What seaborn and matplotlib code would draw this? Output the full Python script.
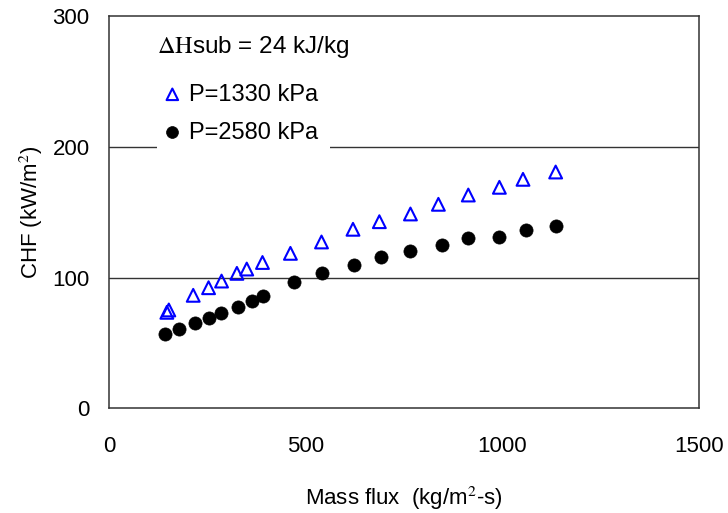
import matplotlib
matplotlib.use("Agg")
import matplotlib.pyplot as plt
import seaborn as sns
import pandas as pd

# Data
g_1330 = [147, 152, 214, 253, 286, 325, 350, 390, 461, 540, 620, 687, 766, 837, 913, 992, 1052, 1135]
chf_1330 = [73.4, 75.2, 86.4, 92.2, 97.3, 103.2, 106.5, 111.5, 118.5, 127.2, 136.9, 142.7, 148.6, 156.0, 163.1, 169.0, 175.1, 180.7]
g_2580 = [142, 178, 218, 253, 285, 329, 364, 392, 471, 540, 623, 690, 766, 846, 912, 992, 1060, 1135]
chf_2580 = [56.8, 60.4, 65.5, 69.1, 72.6, 77.2, 81.8, 85.9, 96.4, 103.7, 109.6, 115.7, 120.3, 125.1, 130.0, 131.0, 136.1, 139.4]
label_1330 = "P=1330 kPa"
label_2580 = "P=2580 kPa"
x_ticks = [0, 500, 1000, 1500]
y_ticks = [0, 100, 200, 300]
title_text = r"$\Delta\mathrm{H}$sub = 24 kJ/kg"

sns.set_style("white")
plt.rcParams["font.family"] = ["Liberation Sans", "DejaVu Sans"]
plt.rcParams["mathtext.fontset"] = "stix"
plt.rcParams["text.color"] = "black"
plt.rcParams["axes.labelcolor"] = "black"
plt.rcParams["xtick.color"] = "black"
plt.rcParams["ytick.color"] = "black"

df1 = pd.DataFrame({"G": g_1330, "CHF": chf_1330})
df2 = pd.DataFrame({"G": g_2580, "CHF": chf_2580})

fig = plt.figure(figsize=(7.28, 5.13), dpi=100)
ax = fig.add_axes([109 / 728, 1 - 408.3 / 513, 590.3 / 728, 392.3 / 513])

for yv in [100, 200]:
    ax.axhline(yv, color="#333333", lw=1.0, zorder=0)

sns.scatterplot(data=df1, x="G", y="CHF", ax=ax, marker="^", s=85,
                facecolors="none", edgecolors="#0000FF", linewidths=1.5,
                label=label_1330, zorder=3)
sns.scatterplot(data=df2, x="G", y="CHF", ax=ax, marker="o", s=90,
                color="black", edgecolor="black", linewidth=0.5,
                label=label_2580, zorder=3)

ax.set_xlim(0, 1500)
ax.set_ylim(0, 300)
ax.set_xticks(x_ticks)
ax.set_yticks(y_ticks)
ax.tick_params(axis="x", direction="in", length=5, pad=20, labelsize=16, color="#333333")
ax.tick_params(axis="y", direction="in", length=0, pad=14, labelsize=16)
for sp in ax.spines.values():
    sp.set_color("#333333")
    sp.set_linewidth(1.1)

ax.set_xlabel(r"Mass flux  (kg/m$^{2}$-s)", fontsize=16, labelpad=20)
ax.set_ylabel(r"CHF (kW/m$^{2}$)", fontsize=16, labelpad=5)

ax.text(0.0813, 0.9218, title_text, transform=ax.transAxes, fontsize=17.5,
        va="center", ha="left")

leg = ax.legend(loc="upper left", bbox_to_anchor=(0.0813, 0.858), fontsize=17,
                frameon=True, facecolor="white", edgecolor="none", framealpha=1,
                borderpad=0.5, handlelength=0.3, handletextpad=0.55,
                labelspacing=0.68, markerscale=0.9, borderaxespad=0)
leg.set_zorder(5)

fig.savefig("out.png", dpi=100)
